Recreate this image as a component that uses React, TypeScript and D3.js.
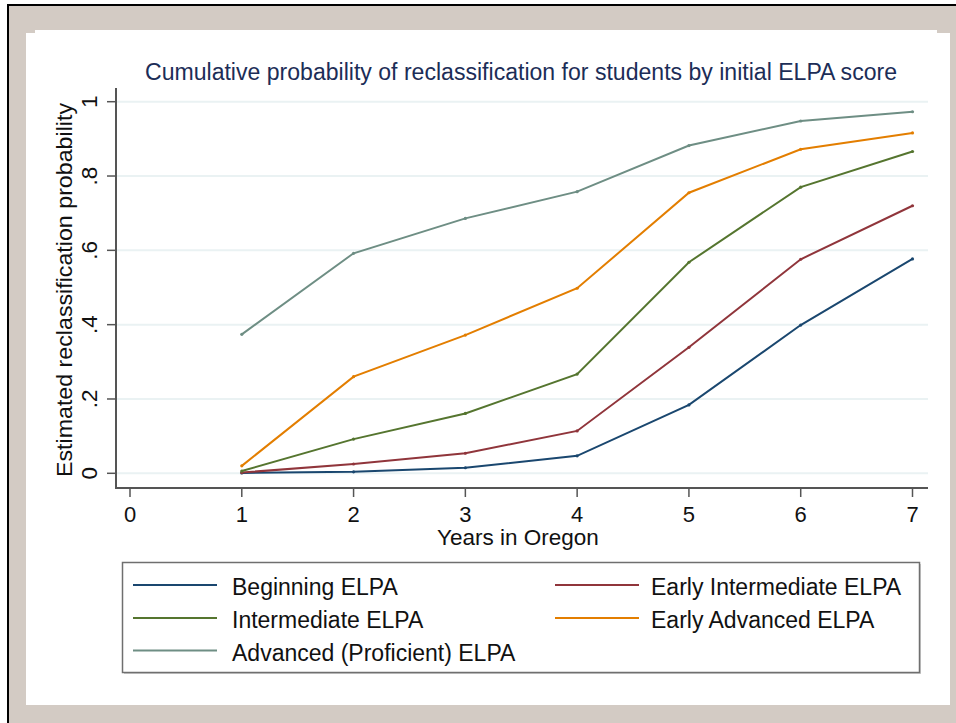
import React from "react";
import * as d3 from "d3";

const years = [1, 2, 3, 4, 5, 6, 7];
const beginning = [0.001, 0.004, 0.015, 0.047, 0.184, 0.399, 0.577];
const earlyIntermediate = [0.002, 0.025, 0.054, 0.114, 0.339, 0.576, 0.72];
const intermediate = [0.006, 0.092, 0.161, 0.267, 0.568, 0.77, 0.866];
const earlyAdvanced = [0.02, 0.26, 0.372, 0.498, 0.755, 0.872, 0.916];
const advanced = [0.374, 0.592, 0.686, 0.758, 0.882, 0.948, 0.973];

const seriesNames = [
  "Beginning ELPA",
  "Early Intermediate ELPA",
  "Intermediate ELPA",
  "Early Advanced ELPA",
  "Advanced (Proficient) ELPA",
];
const seriesValues = [beginning, earlyIntermediate, intermediate, earlyAdvanced, advanced];
const seriesColors = ["#1a476f", "#90353b", "#55752f", "#e37e00", "#6e8e84"];

const xTicks = [0, 1, 2, 3, 4, 5, 6, 7];
const yTicks = [0, 0.2, 0.4, 0.6, 0.8, 1];
const yTickLabels = ["0", ".2", ".4", ".6", ".8", "1"];

const titleText = "Cumulative probability of reclassification for students by initial ELPA score";
const xTitle = "Years in Oregon";
const yTitle = "Estimated reclassification probability";

const FONT = "'Liberation Sans', Arial, Helvetica, sans-serif";

export default function App() {
  const W = 956;
  const H = 723;
  const plotLeft = 116;
  const plotRight = 928;
  const plotTop = 88;
  const plotBottom = 488;

  const x = d3.scaleLinear().domain([0, 7]).range([130, 912.5]);
  const y = d3.scaleLinear().domain([0, 1]).range([473.3, 101.7]);

  const line = d3
    .line<number>()
    .x((_, i) => x(years[i]))
    .y((d) => y(d));

  const legendPos = [
    { col: 0, row: 0 },
    { col: 1, row: 0 },
    { col: 0, row: 1 },
    { col: 1, row: 1 },
    { col: 0, row: 2 },
  ];
  const colLineX = [133, 555];
  const colTextX = [232, 651];
  const rowY = [585, 618, 650.5];

  return (
    <svg
      width={W}
      height={H}
      style={{ position: "absolute", left: 0, top: 0, fontFamily: FONT }}
    >
      <rect x={0} y={0} width={W} height={H} fill="#ffffff" />
      <rect x={7} y={5} width={W - 7} height={H - 5} fill="#d3cbc4" />
      <line x1={8} y1={5} x2={8} y2={H} stroke="#000" strokeWidth={2} />
      <line x1={7} y1={5} x2={W} y2={5} stroke="#000" strokeWidth={2} />
      <rect x={26} y={33} width={924} height={672} fill="#ffffff" />
      <rect x={35} y={30} width={902} height={4} fill="#ffffff" />

      <text
        x={521}
        y={80}
        textAnchor="middle"
        fontSize={23.5}
        fill="#1c2d57"
        textLength={752}
        lengthAdjust="spacingAndGlyphs"
      >
        {titleText}
      </text>

      {yTicks.map((t) => (
        <line
          key={"g" + t}
          x1={plotLeft}
          x2={plotRight}
          y1={y(t)}
          y2={y(t)}
          stroke="#eaf2f3"
          strokeWidth={2}
        />
      ))}

      <line x1={plotLeft} x2={plotLeft} y1={plotTop} y2={plotBottom} stroke="#555" strokeWidth={2} />
      <line x1={plotLeft - 1} x2={plotRight} y1={plotBottom} y2={plotBottom} stroke="#555" strokeWidth={2} />

      {yTicks.map((t, i) => (
        <g key={"yt" + t}>
          <line x1={plotLeft - 9} x2={plotLeft} y1={y(t)} y2={y(t)} stroke="#555" strokeWidth={1.5} />
          <text
            transform={`translate(97,${y(t)}) rotate(-90)`}
            textAnchor="middle"
            fontSize={22.5}
            fill="#111"
          >
            {yTickLabels[i]}
          </text>
        </g>
      ))}
      {xTicks.map((t) => (
        <g key={"xt" + t}>
          <line x1={x(t)} x2={x(t)} y1={plotBottom} y2={plotBottom + 9} stroke="#555" strokeWidth={1.5} />
          <text x={x(t)} y={521.5} textAnchor="middle" fontSize={22} fill="#111">
            {t}
          </text>
        </g>
      ))}

      <text x={518} y={545} textAnchor="middle" fontSize={22.5} fill="#111">
        {xTitle}
      </text>
      <text
        transform="translate(72,290) rotate(-90)"
        textAnchor="middle"
        fontSize={22.5}
        fill="#111"
        textLength={374}
        lengthAdjust="spacingAndGlyphs"
      >
        {yTitle}
      </text>

      {seriesValues.map((vals, si) => (
        <g key={"s" + si}>
          <path d={line(vals) || ""} fill="none" stroke={seriesColors[si]} strokeWidth={2} />
          {vals.map((v, i) => (
            <circle key={i} cx={x(years[i])} cy={y(v)} r={1.6} fill={seriesColors[si]} />
          ))}
        </g>
      ))}

      <rect x={124} y={564} width={797} height={110} fill="#999" opacity={0.5} />
      <rect x={122.5} y={562.5} width={797} height={110} fill="#fff" stroke="#6f6f6f" strokeWidth={1.5} />
      {seriesNames.map((name, si) => {
        const p = legendPos[si];
        const ly = rowY[p.row];
        return (
          <g key={"l" + si}>
            <line
              x1={colLineX[p.col]}
              x2={colLineX[p.col] + 84}
              y1={ly}
              y2={ly}
              stroke={seriesColors[si]}
              strokeWidth={2}
            />
            <text x={colTextX[p.col]} y={ly + 10} fontSize={23} fill="#111">
              {name}
            </text>
          </g>
        );
      })}
    </svg>
  );
}
